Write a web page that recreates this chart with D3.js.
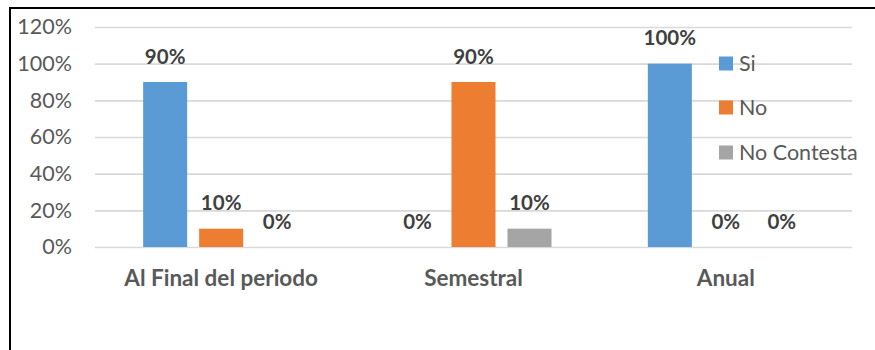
<!DOCTYPE html>
<html>
<head>
<meta charset="utf-8">
<script src="https://cdn.jsdelivr.net/npm/d3@7"></script>
<style>
  html, body { margin: 0; padding: 0; background: #fff; }
  svg { display: block; font-family: Lato, "Open Sans", sans-serif; }
</style>
</head>
<body>
<svg id="chart" width="875" height="350"></svg>
<script>
// Frequency of evaluation answers, by period
const categories = ["Al Final del periodo", "Semestral", "Anual"];
const seriesNames = ["Si", "No", "No Contesta"];
const siValues = [0.90, 0.00, 1.00];
const noValues = [0.10, 0.90, 0.00];
const noContestaValues = [0.00, 0.10, 0.00];
const yTicks = [0, 0.2, 0.4, 0.6, 0.8, 1.0, 1.2];
const colors = ["#5B9BD5", "#ED7D31", "#A5A5A5"];

const seriesValues = [siValues, noValues, noContestaValues];
const rows = categories.map((c, i) => ({
  category: c,
  values: seriesNames.map((s, j) => ({ series: s, value: seriesValues[j][i], color: colors[j] }))
}));

const svg = d3.select("#chart");

// frame lines (top and left)
svg.append("line").attr("x1", 9).attr("x2", 875).attr("y1", 8).attr("y2", 8)
  .attr("stroke", "#000").attr("stroke-width", 2);
svg.append("line").attr("x1", 10).attr("x2", 10).attr("y1", 7).attr("y2", 350)
  .attr("stroke", "#000").attr("stroke-width", 2);

const plot = { left: 95, right: 852, top: 27, bottom: 247 };

const y = d3.scaleLinear().domain([0, 1.2]).range([plot.bottom, plot.top]);
const x0 = d3.scaleBand().domain(categories).range([plot.left, plot.right]);
const x1 = d3.scaleBand().domain(seriesNames).range([0, x0.bandwidth()])
  .paddingInner(0.214).paddingOuter(0.86);

// gridlines + y labels
const yAxis = d3.axisLeft(y).tickValues(yTicks)
  .tickSize(-(plot.right - plot.left))
  .tickFormat(d3.format(".0%"))
  .tickPadding(23);
const gy = svg.append("g").attr("transform", `translate(${plot.left},0)`).call(yAxis);
gy.select(".domain").remove();
gy.selectAll(".tick line").attr("stroke", "#d9d9d9").attr("stroke-width", 1.6);
gy.selectAll(".tick text").attr("fill", "#595959").style("font-size", "21.5px")
  .style("font-family", "Lato, 'Open Sans', sans-serif");

// bars
const groups = svg.append("g").selectAll("g").data(rows).join("g")
  .attr("transform", d => `translate(${x0(d.category)},0)`);

groups.selectAll("rect").data(d => d.values).join("rect")
  .attr("x", d => x1(d.series))
  .attr("width", x1.bandwidth())
  .attr("y", d => y(d.value))
  .attr("height", d => y(0) - y(d.value))
  .attr("fill", d => d.color);

// value labels
groups.selectAll("text.val").data(d => d.values).join("text")
  .attr("class", "val")
  .attr("x", d => x1(d.series) + x1.bandwidth() / 2)
  .attr("y", d => y(d.value) - 18.5)
  .attr("text-anchor", "middle")
  .attr("fill", "#404040")
  .style("font-size", "20.5px")
  .style("font-weight", "bold")
  .text(d => d3.format(".0%")(d.value));

// category labels
svg.append("g").selectAll("text").data(categories).join("text")
  .attr("x", d => x0(d) + x0.bandwidth() / 2)
  .attr("y", 286)
  .attr("text-anchor", "middle")
  .attr("fill", "#595959")
  .style("font-size", "22.5px")
  .style("font-weight", "bold")
  .text(d => d);

// legend
const legend = svg.append("g").attr("transform", "translate(719,0)");
const legendY = [63.5, 107.5, 152.5];
const li = legend.selectAll("g").data(seriesNames).join("g")
  .attr("transform", (d, i) => `translate(0,${legendY[i]})`);
li.append("rect").attr("x", 0).attr("y", -7).attr("width", 14).attr("height", 14)
  .attr("fill", (d, i) => colors[i]);
li.append("text").attr("x", 20).attr("y", 0).attr("dy", "0.35em")
  .attr("fill", "#595959").style("font-size", "21.5px")
  .text(d => d);
</script>
</body>
</html>
